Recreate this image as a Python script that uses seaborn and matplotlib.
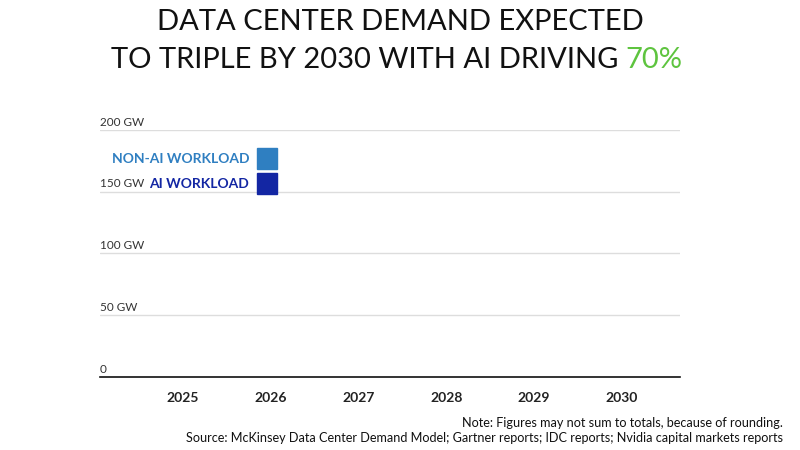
import matplotlib.pyplot as plt
import seaborn as sns
import pandas as pd
sns.set_style("white")
plt.rcParams['font.family'] = ['Lato', 'DejaVu Sans']

years = ["2025", "2026", "2027", "2028", "2029", "2030"]
# frame of the animation before any bars have grown
ai_gw = [0, 0, 0, 0, 0, 0]
non_ai_gw = [0, 0, 0, 0, 0, 0]
y_ticks = [0, 50, 100, 150, 200]
y_labels = ["0", "50 GW", "100 GW", "150 GW", "200 GW"]
legend_names = ["NON-AI WORKLOAD", "AI WORKLOAD"]
legend_colors = ["#2f7fc1", "#1326a3"]

df = pd.DataFrame({"year": years, "ai": ai_gw, "non_ai": non_ai_gw})
df["total"] = df["ai"] + df["non_ai"]

fig = plt.figure(figsize=(8, 4.5), dpi=100)
ax = fig.add_axes([0.125, 0.1622, 0.725, 0.549])

sns.barplot(data=df, x="year", y="total", color=legend_colors[0], width=0.55, ax=ax)
sns.barplot(data=df, x="year", y="ai", color=legend_colors[1], width=0.55, ax=ax)

ax.set_xlim(-0.94, 5.66)
ax.set_ylim(0, 200)
for s in ["top", "right", "left"]:
    ax.spines[s].set_visible(False)
ax.spines["bottom"].set_color("#111111")
ax.spines["bottom"].set_linewidth(1.2)
ax.set_yticks([])
for v in y_ticks[1:]:
    ax.axhline(v, color="#dddddd", lw=1, zorder=0)
for v, lab in zip(y_ticks, y_labels):
    ax.text(-0.94, v + 1.8, lab, ha="left", va="bottom", fontsize=8.5, color="#333333")
ax.set_xlabel("")
ax.set_ylabel("")
ax.tick_params(axis="x", length=0, pad=11)
for t in ax.get_xticklabels():
    t.set_fontweight("bold")
    t.set_fontsize(10)
    t.set_color("#222222")

# legend boxes drawn as squares with coloured labels
for i, (name, col) in enumerate(zip(legend_names, legend_colors)):
    yy = 0.625 - i * 0.057
    fig.patches.append(plt.Rectangle((257 / 800, yy), 20 / 800, 21 / 450,
                                     transform=fig.transFigure, color=col))
    fig.text(249 / 800, yy + 10 / 450, name, ha="right", va="center",
             fontsize=10, fontweight="bold", color=col)

fig.text(0.5, 1 - 22 / 450, "DATA CENTER DEMAND EXPECTED", ha="center", va="center",
         fontsize=21, color="#111111")
t2 = fig.text(0.5, 1 - 60 / 450, "TO TRIPLE BY 2030 WITH AI DRIVING ", ha="center", va="center",
              fontsize=21, color="#111111")
t2.set_x((400 - 32) / 800)
fig.canvas.draw()
bb = t2.get_window_extent()
fig.text(bb.x1 / 800, 1 - 60 / 450, "70%", ha="left", va="center", fontsize=21, color="#5ec43f")

fig.text(783 / 800, 1 - 423 / 450, "Note: Figures may not sum to totals, because of rounding.",
         ha="right", va="center", fontsize=9.1, color="#111111")
fig.text(783 / 800, 1 - 438 / 450,
         "Source: McKinsey Data Center Demand Model; Gartner reports; IDC reports; Nvidia capital markets reports",
         ha="right", va="center", fontsize=9.1, color="#111111")

fig.savefig("out.png", dpi=100)
